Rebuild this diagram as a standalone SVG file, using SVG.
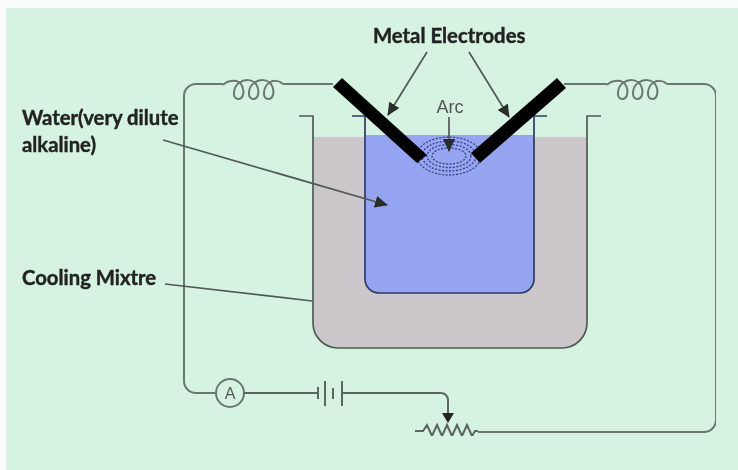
<svg xmlns="http://www.w3.org/2000/svg" width="738" height="470" viewBox="0 0 738 470">
<style>
.w{fill:none;stroke:#68776f;stroke-width:2}
.v{fill:none;stroke:#5a6660;stroke-width:2}
.c{fill:none;stroke:#4f5a55;stroke-width:1.7}
.d{fill:none;stroke:#36447f;stroke-width:1.3;stroke-dasharray:2 1.5}
.t{font-family:Lato,"Liberation Sans",sans-serif;font-weight:700;font-size:20.3px;fill:#222;stroke:#222;stroke-width:.4}
</style>
<defs>
<filter id="soft" x="0" y="0" width="100%" height="100%"><feGaussianBlur stdDeviation="0.45"/></filter>
<marker id="ah" markerWidth="13" markerHeight="12" refX="12" refY="6" orient="auto" markerUnits="userSpaceOnUse"><path d="M0 0L13 6L0 12Z" fill="#2a2f2c"/></marker>
<path id="coil" d="M0 1C5 -4 14 -5 18 0C22 6 21 15 15 15C9 15 10 3 16 -1C21 -5 29 -5 33 0C37 6 36 15 30 15C24 15 25 3 31 -1C36 -5 44 -5 48 0C52 6 51 15 45 15C39 15 40 3 46 -1C50 -4 56 -4 60 0" fill="none" stroke="#68776f" stroke-width="2"/>
</defs>
<rect width="738" height="470" fill="#fbfdfc"/>
<rect x="6" y="8" width="732" height="462" fill="#d6f3e2"/>
<g filter="url(#soft)">
<g id="outer-vessel">
<path d="M313 137H587V323A25 25 0 0 1 562 348H338A25 25 0 0 1 313 323Z" fill="#cbc7ca"/>
<path d="M299 116H313V323A25 25 0 0 0 338 348H562A25 25 0 0 0 587 323V116H601" class="c"/>
</g>
<g id="inner-vessel">
<path d="M365 135H534V279A14 14 0 0 1 520 293H379A14 14 0 0 1 365 279Z" fill="#95a5f2"/>
<path d="M352 116H365V279A14 14 0 0 0 379 293H520A14 14 0 0 0 534 279V116H547" fill="none" stroke="#2f3a60" stroke-width="1.7"/>
</g>
<g id="arc">
<ellipse cx="449" cy="156" rx="32" ry="19" class="d"/>
<ellipse cx="449" cy="156" rx="27" ry="15" class="d"/>
<ellipse cx="449" cy="156" rx="22" ry="11.5" class="d"/>
<ellipse cx="449" cy="156" rx="17" ry="8" class="d"/>
<text x="450" y="113" text-anchor="middle" font-family="Liberation Sans,sans-serif" font-size="18" fill="#555">Arc</text>
</g>
<g id="electrode-left"><polygon points="342,78 427,155 417,163 333,87" fill="#000"/></g>
<g id="electrode-right"><polygon points="557,78 566,88 480,163 471,153" fill="#000"/></g>
<g id="coil-left"><use href="#coil" x="223" y="84"/></g>
<g id="coil-right"><use href="#coil" x="607" y="84"/></g>
<g id="ammeter">
<circle cx="230" cy="393" r="14" fill="none" stroke="#68776f" stroke-width="2"/>
<text x="230" y="399" text-anchor="middle" font-family="Liberation Sans,sans-serif" font-size="16" fill="#555">A</text>
</g>
<g id="battery" stroke="#5a6660" stroke-width="2">
<line x1="318" y1="387" x2="318" y2="399"/>
<line x1="325" y1="381" x2="325" y2="406"/>
<line x1="333" y1="388" x2="333" y2="399"/>
<line x1="342" y1="381" x2="342" y2="406"/>
</g>
<g id="rheostat">
<path d="M415 431H423L427 425L432 436L437 425L442 436L447 425L452 436L457 425L462 436L467 425L472 436L475 431H478" class="v"/>
</g>
<g id="connectors">
<path d="M333 84H283M223 84H196A12 12 0 0 0 184 96V381A12 12 0 0 0 196 393H216" class="w"/>
<path d="M244 393H318M342 393H441A7 7 0 0 1 448 400V414" class="v"/>
<polygon points="442,413 454,413 448,423" fill="#222"/>
<path d="M564 84H607M667 84H704A12 12 0 0 1 716 96V420A12 12 0 0 1 704 432H478" class="w"/>
<path d="M427 52L388 115" class="c" marker-end="url(#ah)"/>
<path d="M469 52L509 117" class="c" marker-end="url(#ah)"/>
<path d="M449 117V151" class="c" marker-end="url(#ah)"/>
<path d="M163 140L387 205" class="c" marker-end="url(#ah)"/>
<path d="M165 284L312 301" class="c"/>
</g>
<g id="labels">
<text class="t" x="373" y="43">Metal Electrodes</text>
<text class="t" x="22" y="125">Water(very dilute</text>
<text class="t" x="22" y="152">alkaline)</text>
<text class="t" x="22" y="285">Cooling Mixtre</text>
</g>
</g>
</svg>
